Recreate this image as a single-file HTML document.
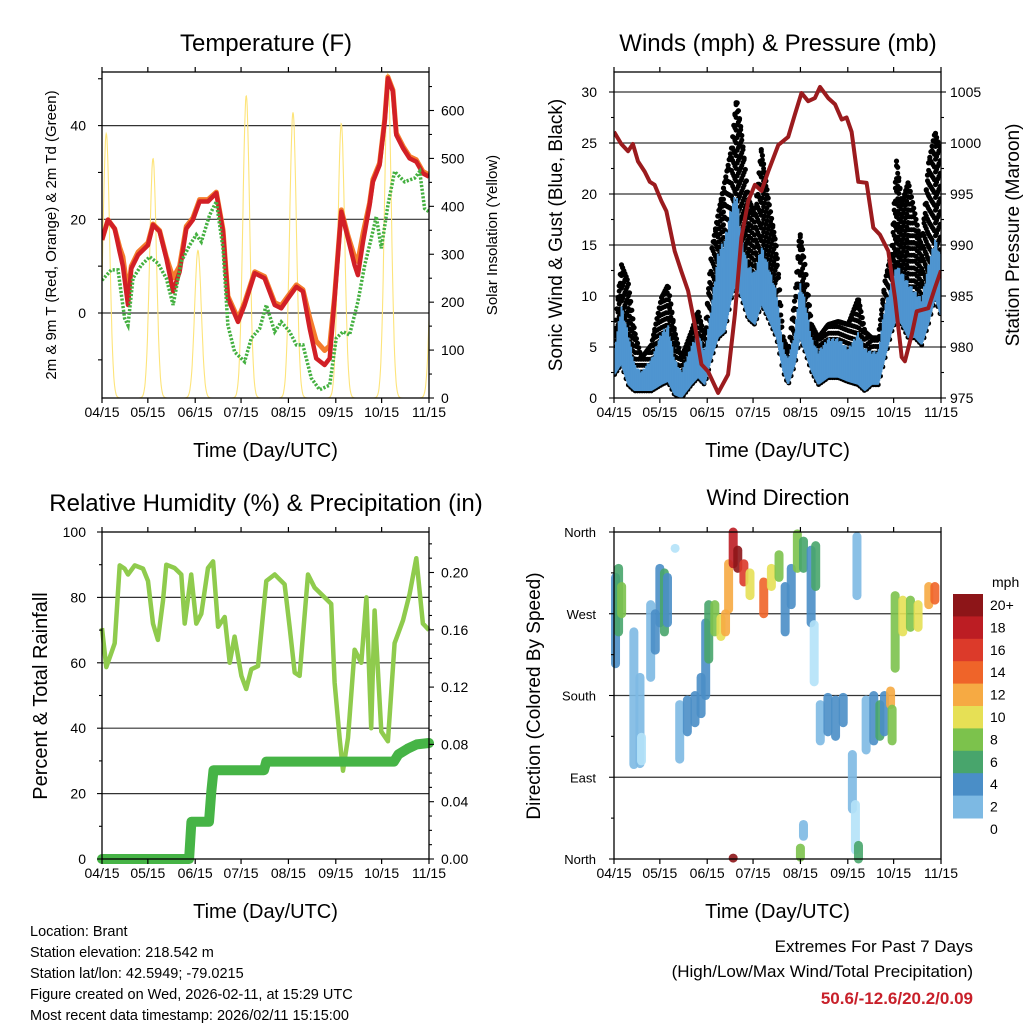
<!DOCTYPE html>
<html><head><meta charset="utf-8"><style>
html,body{margin:0;padding:0;background:#fff;}
svg{display:block;font-family:"Liberation Sans",sans-serif;}
</style></head><body>
<svg id="chart" width="1024" height="1024" viewBox="0 0 1024 1024" xmlns="http://www.w3.org/2000/svg">
<rect width="1024" height="1024" fill="#fff"/>
</svg>
<script>
// ---------- DATA ----------
const dateTicks = ["04/15","05/15","06/15","07/15","08/15","09/15","10/15","11/15"];
const tickDays = [0,30,61,91,122,153,183,214];
// Temperature (F)
const tDays = [0,3.9,8.3,11.6,13.7,17,19.2,23.6,30.1,33.4,37.7,42.1,46.5,50.8,55.2,59.5,63.9,69.4,74.8,79.2,82.4,89,93.3,99.9,106.4,113,117.3,121.7,127.2,131.5,135.9,140.2,145.7,149,152.2,156.6,161,165.3,167.5,170.8,175.1,177.3,181.7,185,187.1,190.4,192.6,197,201.3,205.7,210,214];
const temp2m = [15.6,19.9,18,13,10,1.7,9.5,12.4,14.5,18.8,17.4,11.7,4.6,8.8,18,19.9,23.8,23.8,25.6,17.4,3.1,-1.9,1.7,8.5,7.4,1.7,1,3.1,5.6,4.6,-3.3,-9.7,-11.1,-9.7,3.1,21.6,15.9,10.2,8.1,15.2,23,28,31.6,40.9,50.1,47.3,38,35.2,33,32.3,29.8,29.1];
const temp9m = [15.6,19.9,18,14,12,4,10,13,15,19,17.6,12,7.5,10,18.5,20.3,24.2,24.2,25.8,17.8,3.6,-1.2,2.2,8.8,7.8,2.2,1.6,3.6,6,5,-1,-6,-8,-7,3.6,22,16.5,12,11,17,23.5,28.5,32,41.3,50.4,47.6,38.4,35.6,33.4,32.7,30.2,29.5];
const tdDays = [0,6.1,10.5,14.8,17,20.3,25.7,31.2,36.6,42.1,46.5,51.9,57.4,61.7,65,70.4,74.8,79.2,82.4,86.8,93.3,97.7,103.2,107.5,113,117.3,122.8,127.2,131.5,137,142.4,149,153.3,157.7,162,167.5,171.9,176.2,179.5,182.8,187.1,191.5,198,204.6,207.9,211.1,214];
const dewpoint = [7,9.2,9.2,-1.1,-2.6,7.4,10.2,12,10.6,7.4,1.7,11,14.5,16.7,15.2,20.9,23.8,13.8,-2.6,-8.3,-10.4,-5.4,-3.3,1.7,-4,-1.9,-4,-6.8,-6.8,-13.9,-16.4,-15.4,-5.4,-4,-4.7,2.4,10.2,15.9,20.6,13.8,23,30.2,28,28.8,30.2,22.3,21.6];
const solarPeakDays = [2.8,33.4,62.8,94.4,125,156.6,187.1,217];
const solarPeakVals = [552,500,308,631,596,573,677,420];
// Winds & pressure
const wDays = [0.4,4.8,9.2,13.5,17.9,24.5,31,35.4,39.7,44.1,50.7,55,59.4,63.8,68.1,72.5,76.9,80.2,83.4,87.8,92.2,96.5,100.9,106.4,110.7,114,118.4,121.6,124.9,129.3,133.7,140.2,146.8,153.3,159.9,164.2,168.6,173,177.3,181.7,185,188.3,192.6,197,201.4,205.7,210.1,214];
const gustHigh = [6.5,13.1,11.4,6.5,3.9,5.2,9.8,11.1,6.5,3.9,6.5,8.5,5.9,14.4,18,21.2,24.5,29.4,26.1,19.6,18,24.5,19.6,14.7,5.9,4.6,9.8,16.3,13.1,7.2,5.9,7.2,7.5,7.2,9.8,6.5,5.9,5.9,11.4,14.4,23.5,19,21.2,18,14.7,22.9,26.1,24];
const gustLow = [3.3,6.5,4.9,3.3,2.6,3.3,5.9,6.5,3.3,2.3,3.9,5.2,3.3,7.8,11.4,13.1,16.3,19.6,19,12.4,11.4,14.4,13.1,8.2,3.9,2.6,5.9,9.8,7.8,4.9,3.3,4.6,4.6,3.9,4.6,3.9,3.3,3.3,7.2,9.8,16.3,13.1,13.7,13.1,11.4,16.3,18,16];
const windHigh = [4.9,9.2,6.5,3.3,2.6,3.9,6.5,7.2,3.9,2.6,5.2,6.5,4.6,9.2,14.4,15.7,19,20.3,15.7,13.1,12.4,15,13.1,10.5,4.9,3.9,6.5,11.4,9.8,5.9,4.6,5.9,5.9,4.9,6.5,4.9,4.6,4.6,9.2,11.4,13.1,12.4,11.4,10.5,9.8,13.1,15.7,14];
const windLow = [2.3,3.3,1.3,0.7,0.7,0.7,1.3,1.6,0.3,0,1.3,2,1.3,3.9,5.9,6.5,9.8,11.4,9.8,7.8,7.2,9.2,7.8,5.9,2.6,1.3,3.3,5.9,4.6,2.6,1.3,2,2,1.6,1.3,0.7,1.3,1.3,3.9,6.5,7.8,7.2,5.9,5.9,5.2,7.2,9.8,8];
const pDays = [0,4.8,9.2,12.4,15.7,20.1,23.4,26.6,31,34.3,39.7,44.1,48.5,52.9,57.2,61.6,68.1,74.7,79.1,83.4,87.8,92.2,96.5,100.9,107.5,114,118.4,122.7,127.1,131.5,134.8,140.2,144.6,149,152.2,155.5,159.9,165.3,169.7,174.1,179.5,183.9,188.3,190.4,194.8,198.1,205.7,210.1,214];
const pressure = [1001.1,999.9,999.2,999.9,998.2,997.2,996.2,995.9,994.3,993.3,989.4,987.4,985.5,982.2,978.3,977.6,975.5,977.3,983.2,990.7,994.3,995.9,995.3,997.2,999.8,1000.6,1002.8,1004.9,1004.1,1004.4,1005.5,1004.4,1003.8,1002.3,1002.5,1001.1,996.2,996.1,991.7,991,989.4,984.8,979,978.6,981.2,983.5,983.8,985.8,987.5];
// RH & precip
const rhDays = [0,2.8,6.1,8.3,11.6,14.8,17,21.4,26.8,30.1,33.4,36.6,39.9,42.1,47.5,51.9,54.1,58.4,61.7,65,69.4,72.7,76,80.3,83.6,86.8,91.2,94.4,97.7,102.1,107.5,113,119.5,122.8,126.1,129.3,134.8,139.1,145.7,150,152.2,155.5,157.7,161,165.3,169.7,173,176.2,178.4,182.8,187.1,191.5,197,201.3,205.7,210,214];
const rh = [70.6,58.7,63,66,89.8,88.8,87,89.8,88.8,85,72,67,79,90,89,87,72,87,72,75,89,91,71,74,60,68,56,52,58,59,85,87,84,71,57,56,87,83,80,78,54,37,27,37,64,60,80,40,76,39,36,66,73,81,92,72,70];
const precipDays = [0,57,58.5,70,71.5,73,106,107.5,191,194,200,206,214];
const precip = [0,0,0.026,0.026,0.047,0.062,0.062,0.068,0.068,0.073,0.077,0.080,0.081];
// Wind direction streaks
const dirDays = [1,3,5,13,17,18,24,27,30,33,35,40,43,48,53,57,60,62,66,70,73,75,78,81,85,89,98,103,108,112,116,120,124,129,132,131,135,140,145,150,156,158,159,165,170,174,177,181,182,184,189,194,199,206,210,78,122,160,124];
const dirFrom = [215,250,270,104,105,108,200,230,260,250,260,342,110,140,150,160,180,220,250,245,250,275,325,320,305,290,270,300,310,250,280,320,320,260,300,195,130,140,135,150,55,10,290,120,130,135,140,170,130,210,250,255,255,280,285,1,2,0,25];
const dirTo = [310,320,300,250,200,134,280,270,320,315,310,342,170,175,180,200,260,280,280,265,270,325,360,340,325,315,305,320,335,300,320,358,350,340,345,258,170,178,175,178,115,60,355,175,180,170,180,185,165,290,285,285,280,300,300,1,12,15,38];
const dirSpeed = [4,6,8,2,2,0,2,4,4,6,4,0,2,4,4,4,4,6,8,10,12,12,18,20,16,10,14,10,8,4,4,8,6,4,6,0,2,4,4,4,2,0,2,2,4,6,4,12,8,8,10,8,10,12,14,20,8,6,2];
const speedLevels = ["0","2","4","6","8","10","12","14","16","18","20+"];
const speedColors = ["#b4e2f8","#7db9e3","#4a8ec7","#48a56c","#7cc24c","#e6e055","#f6aa43","#ef6429","#dc3a2a","#bc1d23","#8d1518"];

// ---------- HELPERS ----------
const NS="http://www.w3.org/2000/svg";
const svg=document.getElementById('chart');
function el(tag,attrs,parent){const e=document.createElementNS(NS,tag);for(const k in attrs)e.setAttribute(k,attrs[k]);(parent||svg).appendChild(e);return e;}
function txt(s,x,y,size,anchor,parent,extra){const t=el('text',Object.assign({x:x,y:y,'font-size':size,'text-anchor':anchor||'middle',fill:'#000'},extra||{}),parent);t.textContent=s;return t;}
function linear(d0,d1,r0,r1){return v=>r0+(v-d0)/(d1-d0)*(r1-r0);}
function pathOf(xs,ys,fx,fy){return xs.map((d,i)=>(i?'L':'M')+fx(d).toFixed(1)+','+fy(ys[i]).toFixed(1)).join('');}
function interp(xs,ys,d){if(d<=xs[0])return ys[0];for(let i=1;i<xs.length;i++){if(d<=xs[i]){const t=(d-xs[i-1])/(xs[i]-xs[i-1]);return ys[i-1]+t*(ys[i]-ys[i-1]);}}return ys[ys.length-1];}

function frame(g,L,R,T,B,fx){
  tickDays.forEach((d,i)=>{
    const x=fx(d);
    el('line',{x1:x,x2:x,y1:B,y2:B+5,stroke:'#000','stroke-width':1.2},g);
    el('line',{x1:x,x2:x,y1:T,y2:T-5,stroke:'#000','stroke-width':1.2},g);
    const t=txt(dateTicks[i],x,B+19,14,'middle',g);
    
    
  });
  const t=txt('Time (Day/UTC)',(L+R)/2,B+59,20,'middle',g);
  
  
}
function box(g,L,R,T,B){
  const r=el('rect',{x:L,y:T,width:R-L,height:B-T,fill:'none',stroke:'#000','stroke-width':1.3},g);
  
  
}
function grid(g,L,R,y){el('line',{x1:L,x2:R,y1:y,y2:y,stroke:'#333','stroke-width':1.2},g);}
function ytick(g,x,y,len){el('line',{x1:x,x2:x+len,y1:y,y2:y,stroke:'#000','stroke-width':1.1},g);}

// ---------- PANEL 1: TEMPERATURE ----------
(function(){
  const L=102,R=429,T=72,B=398;
  const g=el('g',{});
  
  
  const fx=linear(0,214,L,R), fy=linear(0,20,313,219.3), fs=linear(0,600,398,110.5);
  const clip=el('clipPath',{id:'c1'},g);el('rect',{x:L,y:T,width:R-L,height:B-T},clip);
  [0,20,40].forEach(v=>grid(g,L,R,fy(v)));
  let pts=[];
  for(let d=-6;d<=220;d+=0.25){let v=0;solarPeakDays.forEach((p,i)=>{const s=2.2;v=Math.max(v,solarPeakVals[i]*Math.exp(-Math.pow((d-p)/s,2)/2));});pts.push([d,v]);}
  const sp=el('path',{d:pts.map((p,i)=>(i?'L':'M')+fx(p[0]).toFixed(1)+','+fs(p[1]).toFixed(1)).join(''),fill:'none',stroke:'#fde47a','stroke-width':1.1,'clip-path':'url(#c1)'},g);
  
  
  const o=el('path',{d:pathOf(tDays,temp9m,fx,fy),fill:'none',stroke:'#f47c2c','stroke-width':5,'stroke-linejoin':'round','clip-path':'url(#c1)'},g);
  
  
  const r=el('path',{d:pathOf(tDays,temp2m,fx,fy),fill:'none',stroke:'#d21f26','stroke-width':4.5,'stroke-linejoin':'round','clip-path':'url(#c1)'},g);
  
  
  const gr=el('path',{d:pathOf(tdDays,dewpoint,fx,fy),fill:'none',stroke:'#44b040','stroke-width':3.5,'stroke-dasharray':'2.2 1.6','clip-path':'url(#c1)'},g);
  
  
  box(g,L,R,T,B);
  [-10,0,10,20,30,40,50].forEach(v=>ytick(g,L-4,fy(v),4));
  [0,20,40].forEach(v=>{const t=txt(String(v),86,fy(v)+5,14,'end',g);});
  for(let v=0;v<=680;v+=50) ytick(g,R,fs(v),v%100?3:5);
  [0,100,200,300,400,500,600].forEach(v=>{const t=txt(String(v),441,fs(v)+5,14,'start',g);});
  frame(g,L,R,T,B,fx);
  const t1=txt('Temperature (F)',266,51,24,'middle',g);
  
  const t2=txt('2m & 9m T (Red, Orange) & 2m Td (Green)',0,0,15,'middle',g,{transform:'translate(56,235) rotate(-90)'});
  
  const t3=txt('Solar Insolation (Yellow)',0,0,15,'middle',g,{transform:'translate(497,235) rotate(-90)'});
  
})();

// ---------- PANEL 2: WINDS ----------
(function(){
  const L=614,R=941,T=72,B=398;
  const g=el('g',{});
  
  
  const fx=linear(0,214,L,R), fy=linear(0,30,398,92), fp=linear(975,1005,398,92);
  const clip=el('clipPath',{id:'c2'},g);el('rect',{x:L,y:T,width:R-L,height:B-T},clip);
  [5,10,15,20,25,30].forEach(v=>grid(g,L,R,fy(v)));
  // gust dots
  const gd=el('g',{fill:'#000','clip-path':'url(#c2)'},g);
  
  
  let col=0;
  for(let d=0.4;d<=214;d+=0.75){
    const hi=interp(wDays,gustHigh,d), lo=interp(wDays,gustLow,d);
    const wl=interp(wDays,windLow,d);
    const start=Math.max(0,wl)+(col%2?0.6:0);
    for(let v=start;v<=hi;v+=1.25){
      const c=el('circle',{cx:fx(d).toFixed(1),cy:fy(v).toFixed(1),r:2.5},gd);
    }
    const c=el('circle',{cx:fx(d).toFixed(1),cy:fy(hi).toFixed(1),r:2.6},gd);
    col++;
  }
  // sustained wind: jagged vertical lines
  const wb=el('g',{stroke:'#4f95d0','stroke-width':2,'clip-path':'url(#c2)'},g);
  
  
  col=0;
  for(let d=0.4;d<=214;d+=0.45){
    const hi=interp(wDays,windHigh,d), lo=interp(wDays,windLow,d);
    const f=[1,0.8,0.92,0.7,0.97,0.85][col%6];
    const top=lo+(hi-lo)*f;
    el('line',{x1:fx(d).toFixed(1),x2:fx(d).toFixed(1),y1:fy(lo).toFixed(1),y2:fy(top).toFixed(1)},wb);
    col++;
  }
  const p=el('path',{d:pathOf(pDays,pressure,fx,fp),fill:'none',stroke:'#9b1b1e','stroke-width':4,'stroke-linejoin':'round','clip-path':'url(#c2)'},g);
  
  
  box(g,L,R,T,B);
  for(let v=0;v<=32;v+=2.5) ytick(g,L-(v%5?3:5),fy(v),v%5?3:5);
  [0,5,10,15,20,25,30].forEach(v=>{const t=txt(String(v),597,fy(v)+5,14,'end',g);});
  for(let v=975;v<=1006;v+=2.5) ytick(g,R,fp(v),v%5?3:5);
  [975,980,985,990,995,1000,1005].forEach(v=>{const t=txt(String(v),950,fp(v)+5,14,'start',g);});
  frame(g,L,R,T,B,fx);
  const t1=txt('Winds (mph) & Pressure (mb)',778,51,24,'middle',g);
  
  const t2=txt('Sonic Wind & Gust (Blue, Black)',0,0,19,'middle',g,{transform:'translate(562,235) rotate(-90)'});
  
  const t3=txt('Station Pressure (Maroon)',0,0,19,'middle',g,{transform:'translate(1019,235) rotate(-90)'});
  
})();

// ---------- PANEL 3: RH ----------
(function(){
  const L=102,R=429,T=532,B=859;
  const g=el('g',{});
  
  
  const fx=linear(0,214,L,R), fy=linear(0,100,B,T), fr=linear(0,0.04,859,801.7);
  const clip=el('clipPath',{id:'c3'},g);el('rect',{x:L-6,y:T,width:R-L+12,height:B-T+6},clip);
  [20,40,60,80].forEach(v=>grid(g,L,R,fy(v)));
  const r=el('path',{d:pathOf(rhDays,rh,fx,fy),fill:'none',stroke:'#8fcb4d','stroke-width':4.5,'stroke-linejoin':'round'},g);
  
  
  const p=el('path',{d:pathOf(precipDays,precip,fx,fr),fill:'none',stroke:'#46b446','stroke-width':10,'stroke-linejoin':'round','stroke-linecap':'round','clip-path':'url(#c3)'},g);
  
  
  box(g,L,R,T,B);
  for(let v=0;v<=100;v+=10) ytick(g,L-(v%20?3:5),fy(v),v%20?3:5);
  [0,20,40,60,80,100].forEach(v=>{const t=txt(String(v),86,fy(v)+5,14,'end',g);});
  for(let v=0;v<=0.2286;v+=0.01) ytick(g,R,fr(v),Math.round(v*100)%4?3:5);
  ['0.00','0.04','0.08','0.12','0.16','0.20'].forEach(s=>{const t=txt(s,441,fr(parseFloat(s))+5,14,'start',g);});
  frame(g,L,R,T,B,fx);
  const t1=txt('Relative Humidity (%) & Precipitation (in)',266,511,24,'middle',g);
  
  const t2=txt('Percent & Total Rainfall',0,0,20,'middle',g,{transform:'translate(47,696) rotate(-90)'});
  
})();

// ---------- PANEL 4: WIND DIRECTION ----------
(function(){
  const L=614,R=941,T=532,B=859;
  const g=el('g',{});
  
  
  const fx=linear(0,214,L,R), fy=linear(0,360,B,T);
  [90,180,270].forEach(v=>grid(g,L,R,fy(v)));
  dirDays.forEach((d,i)=>{
    const c=speedColors[Math.min(10,Math.round(dirSpeed[i]/2))];
    const s=el('line',{x1:fx(d),x2:fx(d),y1:fy(dirFrom[i]),y2:fy(dirTo[i]),stroke:c,'stroke-width':9,'stroke-linecap':'round','stroke-opacity':0.9},g);
    
    
  });
  box(g,L,R,T,B);
  const names=['North','East','South','West','North'];
  for(let v=0;v<=360;v+=45) ytick(g,L-(v%90?3:5),fy(v),v%90?3:5);
  [0,90,180,270,360].forEach((v,i)=>{const t=txt(names[i],596,fy(v)+5,13,'end',g);});
  frame(g,L,R,T,B,fx);
  const t1=txt('Wind Direction',778,505,22,'middle',g);
  
  const t2=txt('Direction (Colored By Speed)',0,0,19,'middle',g,{transform:'translate(540,696) rotate(-90)'});
  
  const cb=el('g',{},g);
  
  
  const boxH=22.4;
  for(let k=0;k<10;k++){
    const col=speedColors[10-k];
    const rr=el('rect',{x:953,y:594+k*boxH,width:30,height:boxH+0.5,fill:col},cb);
    
    
  }
  const um=txt('mph',992,587,14,'start',cb);
  
  for(let k=0;k<=10;k++){
    const lt=txt(speedLevels[10-k],990,610+k*boxH,14,'start',cb);
    
    
  }
})();

// ---------- FOOTER ----------
(function(){
  const g=el('g',{});
  
  
  ['Location: Brant','Station elevation: 218.542 m','Station lat/lon: 42.5949; -79.0215','Figure created on Wed, 2026-02-11, at 15:29 UTC','Most recent data timestamp: 2026/02/11 15:15:00'].forEach((s,i)=>{
    const t=txt(s,30,936+i*21,14.5,'start',g);
    
    
  });
  const g2=el('g',{});
  
  
  const a=txt('Extremes For Past 7 Days',973,952,17,'end',g2);
  
  const b=txt('(High/Low/Max Wind/Total Precipitation)',973,977,17,'end',g2);
  
  const c=txt('50.6/-12.6/20.2/0.09',973,1004,17,'end',g2,{fill:'#c8202a','font-weight':'bold'});
  
})();
</script>
</body></html>
